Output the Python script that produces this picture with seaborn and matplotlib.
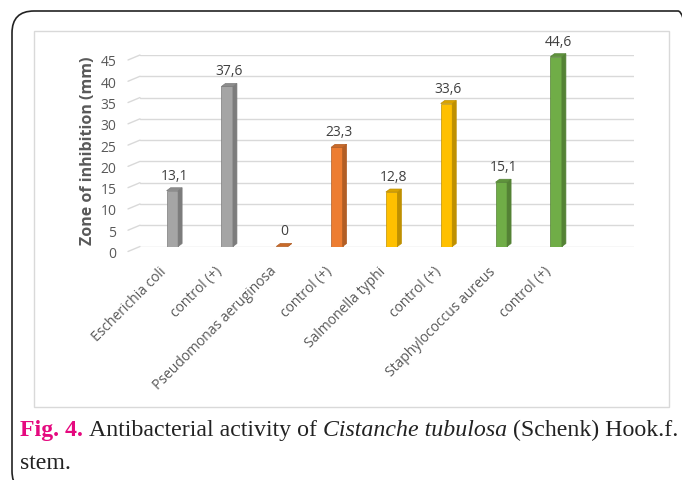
import pandas as pd
import matplotlib
matplotlib.use("Agg")
import matplotlib.pyplot as plt
import seaborn as sns
from matplotlib.patches import Polygon, Rectangle, FancyBboxPatch
from matplotlib.transforms import IdentityTransform, ScaledTranslation
from matplotlib.colors import to_rgb

# data
categories = ["Escherichia coli", "control (+)", "Pseudomonas aeruginosa", "control (+)",
              "Salmonella typhi", "control (+)", "Staphylococcus aureus", "control (+)"]
groups = ["E. coli", "E. coli", "P. aeruginosa", "P. aeruginosa",
          "S. typhi", "S. typhi", "S. aureus", "S. aureus"]
zones = [13.1, 37.6, 0, 23.3, 12.8, 33.6, 15.1, 44.6]
yticks = [0, 5, 10, 15, 20, 25, 30, 35, 40, 45]
colors = ["#A5A5A5", "#ED7D31", "#FFC000", "#70AD47"]

sns.set_style("white")
plt.rcParams["font.family"] = ["Open Sans", "DejaVu Sans"]

W, H = 682, 481
fig = plt.figure(figsize=(W / 100, H / 100), dpi=100)

# outer rounded frame and inner chart box (pixel coordinates)
def py(y):
    return H - y

frame = FancyBboxPatch((12, py(494)), 700 - 12, 494 - 12,
                       boxstyle="round,pad=0,rounding_size=22",
                       transform=IdentityTransform(), fill=False,
                       ec="#222222", lw=1.2)
fig.add_artist(frame)
box = Rectangle((34, py(408)), 669 - 34, 408 - 32, transform=IdentityTransform(),
                fill=False, ec="#D9D9D9", lw=1)
fig.add_artist(box)

x0, x1, y0, y1 = 140, 634, 247.5, 56
ax = fig.add_axes([x0 / W, 1 - y0 / H, (x1 - x0) / W, (y0 - y1) / H])

df = pd.DataFrame({"pos": range(len(zones)), "zone": zones, "group": groups})
sns.barplot(data=df, x="pos", y="zone", hue="group", palette=colors, dodge=False,
            width=0.21, saturation=1, legend=False, ax=ax, zorder=3)

xmin, xmax = -0.59, 8.42
ax.set_xlim(xmin, xmax)
ax.set_ylim(0, 45)
ppx = (x1 - x0) / (xmax - xmin)
ppy = (y0 - y1) / 45
dx, dy = 4 / ppx, 3 / ppy

# fake 3D: side and top faces
bars = sorted(list(ax.patches), key=lambda p: p.get_x())
for bar, v in zip(bars, zones):
    fc = to_rgb(bar.get_facecolor())
    side = tuple(c * 0.75 for c in fc)
    top = tuple(c * 0.85 for c in fc)
    bx, w, h = bar.get_x(), bar.get_width(), bar.get_height()
    bar.set_edgecolor(side)
    bar.set_linewidth(0.5)
    ax.add_patch(Polygon([(bx + w, 0), (bx + w + dx, dy), (bx + w + dx, h + dy), (bx + w, h)],
                         closed=True, fc=side, ec=side, lw=0.5, zorder=3, clip_on=False))
    ax.add_patch(Polygon([(bx, h), (bx + dx, h + dy), (bx + w + dx, h + dy), (bx + w, h)],
                         closed=True, fc=top, ec=side, lw=0.5, zorder=3, clip_on=False))
    ax.annotate(f"{v:g}".replace(".", ","), (bx + w / 2 + dx / 2, h), xytext=(0, 8),
                textcoords="offset pixels", ha="center", va="bottom",
                fontsize=10, color="#404040")

ax.set_yticks(yticks)
ax.yaxis.grid(True, color="#D9D9D9", lw=1)
ax.xaxis.grid(False)
ax.set_axisbelow(True)
for v in yticks:
    ax.plot([xmin, xmin - 12 / ppx], [v, v - 5 / ppy], color="#D9D9D9", lw=1, clip_on=False)
sns.despine(ax=ax, left=True, bottom=True)
ax.tick_params(axis="y", length=0, pad=17, labelsize=10, labelcolor="#595959")
for lbl in ax.get_yticklabels():
    lbl.set_transform(lbl.get_transform() + ScaledTranslation(0, -0.05, fig.dpi_scale_trans))

ax.set_xticks(range(len(categories)))
ax.set_xticklabels(categories, rotation=45, ha="right", va="top", rotation_mode="anchor")
ax.tick_params(axis="x", length=0, pad=12, labelsize=10, labelcolor="#595959")
for lbl in ax.get_xticklabels():
    lbl.set_transform(lbl.get_transform() + ScaledTranslation(-0.13, 0, fig.dpi_scale_trans))
ax.set_xlabel("")
ax.set_ylabel("")

fig.text(88 / W, 1 - 151 / H, "Zone of inhibition (mm)", rotation=90, ha="center",
         va="center", fontsize=11.5, fontweight="bold", color="#595959")

# caption with mixed styles
cap_font = "Liberation Serif"
cap_size = 17.2
renderer = fig.canvas.get_renderer()

def width_of(t):
    return t.get_window_extent(renderer).width

probe = fig.text(0, 0, "x x", family=cap_font, fontsize=cap_size)
probe2 = fig.text(0, 0, "xx", family=cap_font, fontsize=cap_size)
space = width_of(probe) - width_of(probe2)
probe.remove()
probe2.remove()

pieces = [("Fig. 4.", "bold", "normal", "#E5097F"),
          ("Antibacterial activity of", "normal", "normal", "#222222"),
          ("Cistanche tubulosa", "normal", "italic", "#222222"),
          ("(Schenk) Hook.f.", "normal", "normal", "#222222")]
xpos = 20
for txt, weight, style, col in pieces:
    t = fig.text(xpos / W, 1 - 436 / H, txt, family=cap_font, fontsize=cap_size,
                 fontweight=weight, fontstyle=style, color=col, va="baseline")
    xpos += width_of(t) + space
fig.text(20 / W, 1 - 469 / H, "stem.", family=cap_font, fontsize=cap_size,
         color="#222222", va="baseline")

fig.savefig("out.png", dpi=100)
